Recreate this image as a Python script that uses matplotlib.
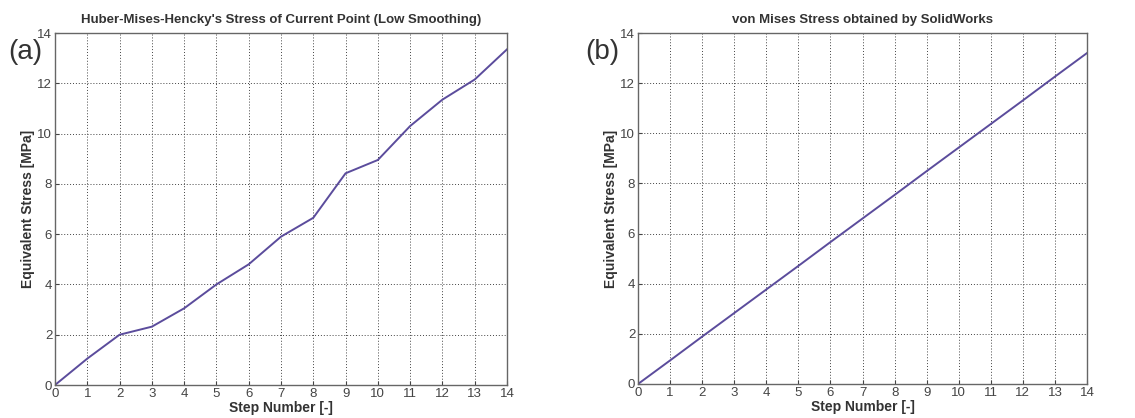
import matplotlib.pyplot as plt

plt.rcParams['font.family'] = ['Liberation Sans', 'DejaVu Sans']

steps = list(range(15))
hmh_stress = [0, 1.05, 2.0, 2.32, 3.05, 4.0, 4.8, 5.9, 6.65, 8.42, 8.95, 10.3, 11.35, 12.15, 13.35]
sw_stress = [0, 0.94, 1.89, 2.83, 3.77, 4.71, 5.66, 6.6, 7.54, 8.49, 9.43, 10.37, 11.31, 12.26, 13.2]

titles = ["Huber-Mises-Hencky's Stress of Current Point (Low Smoothing)",
          "von Mises Stress obtained by SolidWorks"]
panel_labels = ['(a)', '(b)']
label_x = [-0.066, -0.08]

fig = plt.figure(figsize=(11.35, 4.18), dpi=100)
W, H = 1135, 418
boxes = [(55, 33, 507, 385), (638, 33, 1087, 384)]

for k, (data, box) in enumerate(zip([hmh_stress, sw_stress], boxes)):
    x0, y0, x1, y1 = box
    ax = fig.add_axes([x0 / W, 1 - y1 / H, (x1 - x0) / W, (y1 - y0) / H])
    ax.plot(steps, data, color='#5b4c9c', lw=1.4)
    ax.set_xlim(0, 14)
    ax.set_ylim(0, 14)
    ax.set_xticks(range(15))
    ax.set_yticks(range(0, 15, 2))
    ax.grid(True, color='#444444', linestyle=(0, (1, 2)), lw=0.7)
    ax.tick_params(direction='in', length=3, labelsize=9.5, colors='#444444', pad=2)
    for s in ax.spines.values():
        s.set_color('#666666')
        s.set_linewidth(1.0)
    ax.set_title(titles[k], fontsize=9.5, fontweight='bold', color='#333333', pad=7)
    ax.set_xlabel('Step Number [-]', fontsize=10, fontweight='bold', color='#333333', labelpad=1)
    ax.set_ylabel('Equivalent Stress [MPa]', fontsize=10, fontweight='bold', color='#333333', labelpad=2)
    ax.text(label_x[k], 0.945, panel_labels[k], transform=ax.transAxes, fontsize=20,
            color='#333333', ha='center', va='center')

fig.savefig('out.png', dpi=100)
